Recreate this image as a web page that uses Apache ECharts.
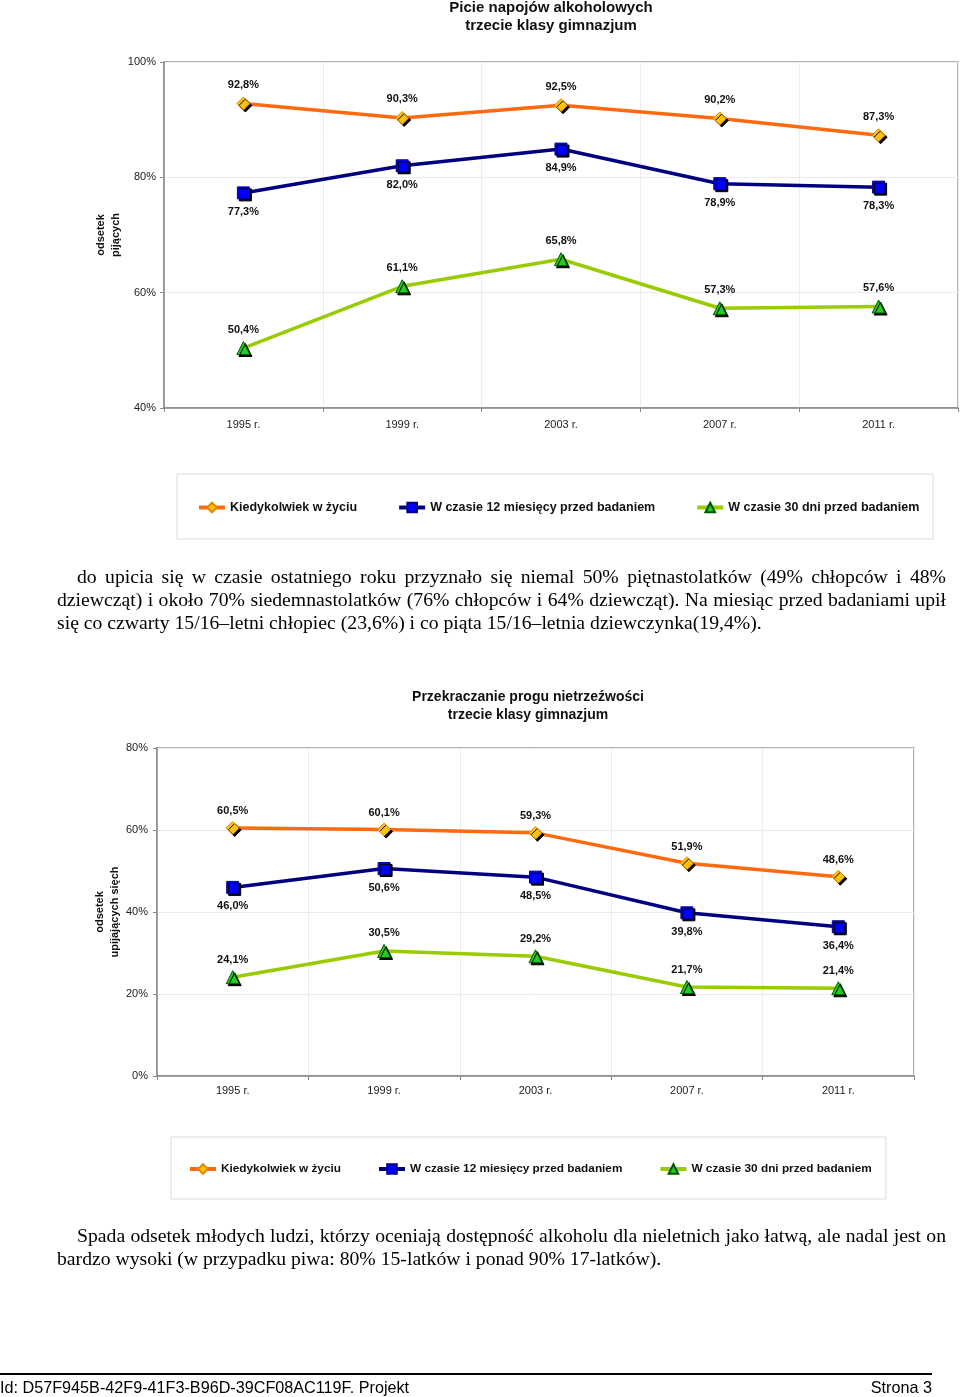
<!DOCTYPE html>
<html>
<head>
<meta charset="utf-8">
<script src="https://cdn.jsdelivr.net/npm/echarts@6/dist/echarts.min.js"></script>
<style>
html,body{margin:0;padding:0;background:#fff;}
#page{position:relative;width:960px;height:1397px;overflow:hidden;}
#chart{position:absolute;left:0;top:0;width:960px;height:1397px;}
.ln{position:absolute;font-family:"Liberation Serif","Times New Roman",serif;font-size:19.7px;line-height:23px;color:#000;white-space:nowrap;}
.j{text-align:justify;text-align-last:justify;white-space:normal;}
#foot{position:absolute;left:0;top:1373px;width:932px;border-top:2px solid #000;}
.ft{position:absolute;top:1377px;font-family:"Liberation Sans",Arial,sans-serif;font-size:16.2px;line-height:20px;color:#000;}
</style>
</head>
<body>
<div id="page">
<div id="chart"></div>
<div class="ln j" style="left:77px;top:565px;width:869px;">do upicia się w czasie ostatniego roku przyznało się niemal 50% piętnastolatków (49% chłopców i 48%</div>
<div class="ln j" style="left:57px;top:588px;width:889px;">dziewcząt) i około 70% siedemnastolatków (76% chłopców i 64% dziewcząt). Na miesiąc przed badaniami upił</div>
<div class="ln" style="left:57px;top:611px;">się co czwarty 15/16–letni chłopiec (23,6%) i co piąta 15/16–letnia dziewczynka(19,4%).</div>
<div class="ln j" style="left:77px;top:1224px;width:869px;">Spada odsetek młodych ludzi, którzy oceniają dostępność alkoholu dla nieletnich jako łatwą, ale nadal jest on</div>
<div class="ln" style="left:57px;top:1247px;">bardzo wysoki (w przypadku piwa: 80% 15-latków i ponad 90% 17-latków).</div>
<div id="foot"></div>
<div class="ft" style="left:0;">Id: D57F945B-42F9-41F3-B96D-39CF08AC119F. Projekt</div>
<div class="ft" style="right:28px;">Strona 3</div>
</div>
<script>
var categories = ['1995 r.', '1999 r.', '2003 r.', '2007 r.', '2011 r.'];
var seriesNames = ['Kiedykolwiek w życiu', 'W czasie 12 miesięcy przed badaniem', 'W czasie 30 dni przed badaniem'];
// Chart 1: Picie napojów alkoholowych
var drinkEver = [92.8, 90.3, 92.5, 90.2, 87.3];
var drink12m = [77.3, 82.0, 84.9, 78.9, 78.3];
var drink30d = [50.4, 61.1, 65.8, 57.3, 57.6];
// Chart 2: Przekraczanie progu nietrzeźwości
var drunkEver = [60.5, 60.1, 59.3, 51.9, 48.6];
var drunk12m = [46.0, 50.6, 48.5, 39.8, 36.4];
var drunk30d = [24.1, 30.5, 29.2, 21.7, 21.4];
var yTicks1 = {min: 40, max: 100, interval: 20};
var yTicks2 = {min: 0, max: 80, interval: 20};

var FONT = '"Liberation Sans", Arial, sans-serif';
var styles = [
  {line: '#FF6A10', symbol: 'diamond', size: 13, fill: '#FFC20E', border: '#E08A00', pos: 'top'},
  {line: '#000080', symbol: 'rect', size: 12, fill: '#0000FF', border: '#00008B', pos: 'bottom'},
  {line: '#99CC00', symbol: 'triangle', size: 13, fill: '#22CC22', border: '#005500', pos: 'top'}
];
var labelDist = [[6, 7, 6], [4, 7, 5]];
function fmt(p) { return p.value.toFixed(1).replace('.', ',') + '%'; }
function mkSeries(idx, data, i) {
  var s = styles[i];
  return {
    type: 'line', name: seriesNames[i], xAxisIndex: idx, yAxisIndex: idx,
    data: data, symbol: s.symbol, symbolSize: s.size, z: 3 + (2 - i),
    lineStyle: {color: s.line, width: 3.5},
    itemStyle: {color: s.fill, borderColor: s.border, borderWidth: 1,
      shadowColor: '#000', shadowOffsetX: 2, shadowOffsetY: 2, shadowBlur: 0},
    emphasis: {disabled: true},
    label: {show: true, position: s.pos, distance: labelDist[idx][i], formatter: fmt,
      fontFamily: FONT, fontSize: 11, fontWeight: 'bold', color: '#111'}
  };
}
function xAx(idx, margin) {
  return {type: 'category', gridIndex: idx, data: categories, boundaryGap: true,
    axisLine: {lineStyle: {color: '#888', width: 1.5}},
    axisTick: {show: true, length: 4, lineStyle: {color: '#888'}},
    axisLabel: {fontFamily: FONT, fontSize: 11, color: '#222', margin: margin},
    splitLine: {show: true, lineStyle: {color: '#ececec'}}};
}
function yAx(idx, t, name, gap, margin) {
  return {type: 'value', gridIndex: idx, min: t.min, max: t.max, interval: t.interval,
    name: name, nameLocation: 'middle', nameRotate: 90, nameGap: gap, nameMoveOverlap: false,
    nameTextStyle: {fontFamily: FONT, fontSize: 11, fontWeight: 'bold', color: '#111', lineHeight: 15},
    axisLine: {show: true, lineStyle: {color: '#888', width: 1.5}},
    axisTick: {show: true, length: 4, lineStyle: {color: '#888'}},
    axisLabel: {fontFamily: FONT, fontSize: 11, color: '#222', margin: margin, formatter: '{value}%'},
    splitLine: {show: true, lineStyle: {color: '#ececec'}}};
}
function legendText(sz) { return {fontFamily: FONT, fontSize: sz, fontWeight: 'bold', color: '#111'}; }
var option = {
  animation: false,
  backgroundColor: 'transparent',
  title: [
    {text: 'Picie napojów alkoholowych\ntrzecie klasy gimnazjum', left: 551, top: -1, textAlign: 'center', padding: 0,
      textStyle: {fontFamily: FONT, fontSize: 15, fontWeight: 'bold', color: '#111', lineHeight: 18}},
    {text: 'Przekraczanie progu nietrzeźwości\ntrzecie klasy gimnazjum', left: 528, top: 688, textAlign: 'center', padding: 0,
      textStyle: {fontFamily: FONT, fontSize: 14, fontWeight: 'bold', color: '#111', lineHeight: 18}}
  ],
  grid: [
    {left: 164, top: 62, width: 794, height: 346, show: true, borderColor: '#999', borderWidth: 1.5, containLabel: false},
    {left: 157, top: 748, width: 757, height: 328, show: true, borderColor: '#999', borderWidth: 1.5, containLabel: false}
  ],
  xAxis: [xAx(0, 11), xAx(1, 9)],
  yAxis: [yAx(0, yTicks1, 'odsetek\npijących', 41, 8), yAx(1, yTicks2, 'odsetek\nupijających sięch', 35, 9)],
  legend: [
    {data: seriesNames, left: 197, top: 501, padding: 0, itemWidth: 26, itemHeight: 12, itemGap: 40,
      lineStyle: {width: 4}, textStyle: legendText(12.5), selectedMode: false},
    {data: seriesNames, left: 188, top: 1163, padding: 0, itemWidth: 26, itemHeight: 12, itemGap: 36,
      lineStyle: {width: 4}, textStyle: legendText(11.8), selectedMode: false}
  ],
  graphic: [
    {type: 'rect', shape: {x: 177, y: 474, width: 756, height: 65}, style: {fill: 'none', stroke: '#ddd', lineWidth: 1}, z: -1},
    {type: 'rect', shape: {x: 171, y: 1137, width: 715, height: 62}, style: {fill: 'none', stroke: '#ddd', lineWidth: 1}, z: -1}
  ],
  series: [
    mkSeries(0, drinkEver, 0), mkSeries(0, drink12m, 1), mkSeries(0, drink30d, 2),
    mkSeries(1, drunkEver, 0), mkSeries(1, drunk12m, 1), mkSeries(1, drunk30d, 2)
  ]
};
var chart = echarts.init(document.getElementById('chart'), null, {renderer: 'canvas'});
chart.setOption(option);
</script>
</body>
</html>
